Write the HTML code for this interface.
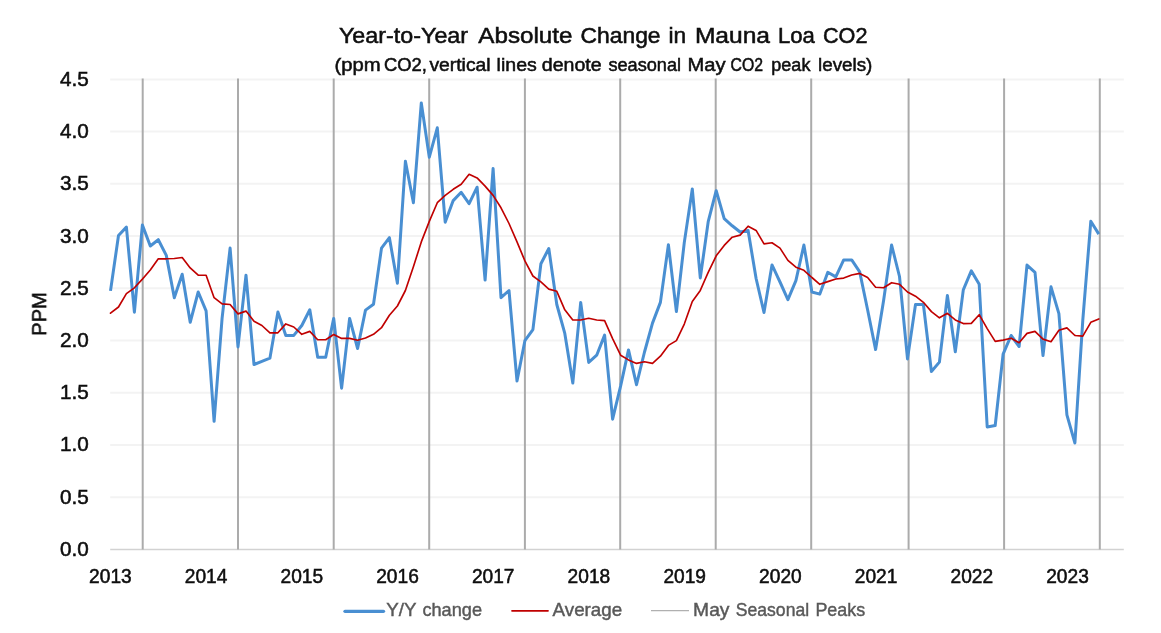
<!DOCTYPE html>
<html><head><meta charset="utf-8"><title>Year-to-Year Absolute Change in Mauna Loa CO2</title>
<style>html,body{margin:0;padding:0;background:#fff;}svg{display:block;}text{font-family:"Liberation Sans",sans-serif;}</style></head><body>
<svg width="1161" height="633" viewBox="0 0 1161 633">
<defs><filter id="soft" x="0" y="0" width="1161" height="633" filterUnits="userSpaceOnUse"><feGaussianBlur stdDeviation="0.5"/></filter></defs>
<rect width="1161" height="633" fill="#fff"/>
<g filter="url(#soft)">
<line x1="110.2" y1="79.4" x2="1123.8" y2="79.4" stroke="#f3f3f3" stroke-width="2"/>
<line x1="110.2" y1="131.6" x2="1123.8" y2="131.6" stroke="#f3f3f3" stroke-width="2"/>
<line x1="110.2" y1="183.8" x2="1123.8" y2="183.8" stroke="#f3f3f3" stroke-width="2"/>
<line x1="110.2" y1="236.1" x2="1123.8" y2="236.1" stroke="#f3f3f3" stroke-width="2"/>
<line x1="110.2" y1="288.3" x2="1123.8" y2="288.3" stroke="#f3f3f3" stroke-width="2"/>
<line x1="110.2" y1="340.5" x2="1123.8" y2="340.5" stroke="#f3f3f3" stroke-width="2"/>
<line x1="110.2" y1="392.7" x2="1123.8" y2="392.7" stroke="#f3f3f3" stroke-width="2"/>
<line x1="110.2" y1="444.9" x2="1123.8" y2="444.9" stroke="#f3f3f3" stroke-width="2"/>
<line x1="110.2" y1="497.2" x2="1123.8" y2="497.2" stroke="#f3f3f3" stroke-width="2"/>
<line x1="110.2" y1="549.4" x2="1123.8" y2="549.4" stroke="#d2d2d2" stroke-width="1.5"/>
<line x1="142.7" y1="78.5" x2="142.7" y2="549.4" stroke="#ababab" stroke-width="2.0"/>
<line x1="238.0" y1="78.5" x2="238.0" y2="549.4" stroke="#ababab" stroke-width="2.0"/>
<line x1="333.7" y1="78.5" x2="333.7" y2="549.4" stroke="#ababab" stroke-width="2.0"/>
<line x1="429.2" y1="78.5" x2="429.2" y2="549.4" stroke="#ababab" stroke-width="2.0"/>
<line x1="524.9" y1="78.5" x2="524.9" y2="549.4" stroke="#ababab" stroke-width="2.0"/>
<line x1="620.2" y1="78.5" x2="620.2" y2="549.4" stroke="#ababab" stroke-width="2.0"/>
<line x1="715.7" y1="78.5" x2="715.7" y2="549.4" stroke="#ababab" stroke-width="2.0"/>
<line x1="811.2" y1="78.5" x2="811.2" y2="549.4" stroke="#ababab" stroke-width="2.0"/>
<line x1="908.6" y1="78.5" x2="908.6" y2="549.4" stroke="#ababab" stroke-width="2.0"/>
<line x1="1004.1" y1="78.5" x2="1004.1" y2="549.4" stroke="#ababab" stroke-width="2.0"/>
<line x1="1099.8" y1="78.5" x2="1099.8" y2="549.4" stroke="#ababab" stroke-width="2.0"/>
<polyline fill="none" stroke="#4a8fd2" stroke-width="3.0" stroke-linejoin="round" stroke-linecap="butt" points="110.5,290.9 118.5,235.5 126.4,227.1 134.4,312.2 142.4,225.0 150.3,246.0 158.3,239.7 166.3,255.4 174.3,297.7 182.2,274.2 190.2,322.3 198.2,292.0 206.1,310.8 214.1,421.3 222.1,318.1 230.1,248.1 238.0,346.9 246.0,275.2 254.0,364.5 261.9,361.3 269.9,358.2 277.9,311.9 285.8,335.4 293.8,335.4 301.8,325.5 309.8,309.8 317.7,357.3 325.7,357.3 333.7,318.4 341.6,388.2 349.6,318.4 357.6,348.5 365.5,310.1 373.5,304.3 381.5,248.1 389.4,237.7 397.4,283.2 405.4,161.3 413.4,202.7 421.3,102.9 429.3,157.2 437.3,127.8 445.2,222.2 453.2,200.6 461.2,192.3 469.1,203.7 477.1,187.2 485.1,280.1 493.1,168.6 501.0,297.7 509.0,290.5 517.0,381.0 524.9,340.7 532.9,329.6 540.9,263.7 548.8,248.5 556.8,304.5 564.8,333.4 572.8,383.0 580.7,302.4 588.7,362.4 596.7,355.2 604.6,335.1 612.6,419.2 620.6,386.1 628.5,349.9 636.5,384.7 644.5,352.0 652.5,323.1 660.4,302.4 668.4,244.8 676.4,311.6 684.3,242.4 692.3,189.0 700.3,277.9 708.2,221.7 716.2,190.7 724.2,218.6 732.2,225.8 740.1,232.0 748.1,230.4 756.1,278.5 764.0,312.5 772.0,264.9 780.0,282.0 787.9,299.6 795.9,280.6 803.9,245.0 811.9,292.0 819.8,294.1 827.8,272.3 835.8,276.9 843.7,259.9 851.7,259.9 859.7,271.9 867.6,309.8 875.6,349.6 883.6,300.4 891.6,245.0 899.5,276.5 907.5,358.9 915.5,304.5 923.4,304.5 931.4,371.5 939.4,362.1 947.4,295.5 955.3,351.8 963.3,289.9 971.3,270.8 979.2,284.3 987.2,427.0 995.2,425.5 1003.1,354.1 1011.1,335.5 1019.1,346.5 1027.0,265.1 1035.0,272.3 1043.0,355.6 1051.0,286.8 1058.9,313.7 1066.9,414.9 1074.9,443.0 1082.8,320.2 1090.8,221.3 1098.8,234.1"/>
<polyline fill="none" stroke="#c00000" stroke-width="1.65" stroke-linejoin="round" stroke-linecap="round" points="110.5,313.2 118.5,307.0 126.4,293.6 134.4,287.8 142.4,279.1 150.3,270.0 158.3,258.8 166.3,258.8 174.3,258.5 182.2,257.5 190.2,267.9 198.2,275.2 206.1,275.2 214.1,297.7 222.1,303.9 230.1,304.5 238.0,313.9 246.0,311.1 254.0,321.3 261.9,325.5 269.9,332.8 277.9,332.8 285.8,323.9 293.8,327.0 301.8,334.3 309.8,331.4 317.7,339.7 325.7,339.7 333.7,334.5 341.6,338.4 349.6,338.4 357.6,340.3 365.5,338.0 373.5,334.3 381.5,327.7 389.4,315.3 397.4,306.0 405.4,290.5 413.4,266.7 421.3,241.9 429.3,221.4 437.3,202.7 445.2,195.4 453.2,189.3 461.2,184.2 469.1,174.3 477.1,177.9 485.1,186.1 493.1,195.4 501.0,207.8 509.0,223.5 517.0,241.9 524.9,260.9 532.9,276.0 540.9,281.9 548.8,289.1 556.8,291.3 564.8,309.8 572.8,320.0 580.7,320.0 588.7,318.3 596.7,320.0 604.6,320.6 612.6,338.6 620.6,355.2 628.5,359.9 636.5,363.4 644.5,361.8 652.5,363.4 660.4,356.2 668.4,345.4 676.4,340.6 684.3,324.1 692.3,301.4 700.3,290.4 708.2,272.3 716.2,255.8 724.2,245.4 732.2,237.2 740.1,235.1 748.1,226.2 756.1,230.4 764.0,243.9 772.0,242.8 780.0,248.1 787.9,260.4 795.9,267.2 803.9,270.3 811.9,277.5 819.8,284.3 827.8,281.6 835.8,279.0 843.7,278.1 851.7,275.0 859.7,273.4 867.6,277.5 875.6,287.2 883.6,287.8 891.6,282.7 899.5,284.3 907.5,292.0 915.5,296.2 923.4,302.3 931.4,311.6 939.4,317.8 947.4,313.3 955.3,319.9 963.3,323.6 971.3,323.4 979.2,314.7 987.2,328.6 995.2,341.4 1003.1,340.1 1011.1,338.2 1019.1,342.7 1027.0,333.4 1035.0,331.4 1043.0,339.1 1051.0,341.7 1058.9,330.3 1066.9,327.9 1074.9,335.5 1082.8,336.1 1090.8,322.3 1098.8,318.9"/>
<text x="88.7" y="85.8" text-anchor="end" font-size="20.6" fill="#0a0a0a" stroke="#0a0a0a" stroke-width="0.5" textLength="28.8" lengthAdjust="spacingAndGlyphs">4.5</text>
<text x="88.7" y="138.0" text-anchor="end" font-size="20.6" fill="#0a0a0a" stroke="#0a0a0a" stroke-width="0.5" textLength="28.8" lengthAdjust="spacingAndGlyphs">4.0</text>
<text x="88.7" y="190.2" text-anchor="end" font-size="20.6" fill="#0a0a0a" stroke="#0a0a0a" stroke-width="0.5" textLength="28.8" lengthAdjust="spacingAndGlyphs">3.5</text>
<text x="88.7" y="242.5" text-anchor="end" font-size="20.6" fill="#0a0a0a" stroke="#0a0a0a" stroke-width="0.5" textLength="28.8" lengthAdjust="spacingAndGlyphs">3.0</text>
<text x="88.7" y="294.7" text-anchor="end" font-size="20.6" fill="#0a0a0a" stroke="#0a0a0a" stroke-width="0.5" textLength="28.8" lengthAdjust="spacingAndGlyphs">2.5</text>
<text x="88.7" y="346.9" text-anchor="end" font-size="20.6" fill="#0a0a0a" stroke="#0a0a0a" stroke-width="0.5" textLength="28.8" lengthAdjust="spacingAndGlyphs">2.0</text>
<text x="88.7" y="399.1" text-anchor="end" font-size="20.6" fill="#0a0a0a" stroke="#0a0a0a" stroke-width="0.5" textLength="28.8" lengthAdjust="spacingAndGlyphs">1.5</text>
<text x="88.7" y="451.3" text-anchor="end" font-size="20.6" fill="#0a0a0a" stroke="#0a0a0a" stroke-width="0.5" textLength="28.8" lengthAdjust="spacingAndGlyphs">1.0</text>
<text x="88.7" y="503.6" text-anchor="end" font-size="20.6" fill="#0a0a0a" stroke="#0a0a0a" stroke-width="0.5" textLength="28.8" lengthAdjust="spacingAndGlyphs">0.5</text>
<text x="88.7" y="555.8" text-anchor="end" font-size="20.6" fill="#0a0a0a" stroke="#0a0a0a" stroke-width="0.5" textLength="28.8" lengthAdjust="spacingAndGlyphs">0.0</text>
<text x="110.4" y="582.6" text-anchor="middle" font-size="20.6" fill="#0a0a0a" stroke="#0a0a0a" stroke-width="0.5" textLength="42.6" lengthAdjust="spacingAndGlyphs">2013</text>
<text x="206.1" y="582.6" text-anchor="middle" font-size="20.6" fill="#0a0a0a" stroke="#0a0a0a" stroke-width="0.5" textLength="42.6" lengthAdjust="spacingAndGlyphs">2014</text>
<text x="301.8" y="582.6" text-anchor="middle" font-size="20.6" fill="#0a0a0a" stroke="#0a0a0a" stroke-width="0.5" textLength="42.6" lengthAdjust="spacingAndGlyphs">2015</text>
<text x="397.5" y="582.6" text-anchor="middle" font-size="20.6" fill="#0a0a0a" stroke="#0a0a0a" stroke-width="0.5" textLength="42.6" lengthAdjust="spacingAndGlyphs">2016</text>
<text x="493.2" y="582.6" text-anchor="middle" font-size="20.6" fill="#0a0a0a" stroke="#0a0a0a" stroke-width="0.5" textLength="42.6" lengthAdjust="spacingAndGlyphs">2017</text>
<text x="588.9" y="582.6" text-anchor="middle" font-size="20.6" fill="#0a0a0a" stroke="#0a0a0a" stroke-width="0.5" textLength="42.6" lengthAdjust="spacingAndGlyphs">2018</text>
<text x="684.7" y="582.6" text-anchor="middle" font-size="20.6" fill="#0a0a0a" stroke="#0a0a0a" stroke-width="0.5" textLength="42.6" lengthAdjust="spacingAndGlyphs">2019</text>
<text x="780.4" y="582.6" text-anchor="middle" font-size="20.6" fill="#0a0a0a" stroke="#0a0a0a" stroke-width="0.5" textLength="42.6" lengthAdjust="spacingAndGlyphs">2020</text>
<text x="876.1" y="582.6" text-anchor="middle" font-size="20.6" fill="#0a0a0a" stroke="#0a0a0a" stroke-width="0.5" textLength="42.6" lengthAdjust="spacingAndGlyphs">2021</text>
<text x="971.8" y="582.6" text-anchor="middle" font-size="20.6" fill="#0a0a0a" stroke="#0a0a0a" stroke-width="0.5" textLength="42.6" lengthAdjust="spacingAndGlyphs">2022</text>
<text x="1067.5" y="582.6" text-anchor="middle" font-size="20.6" fill="#0a0a0a" stroke="#0a0a0a" stroke-width="0.5" textLength="42.6" lengthAdjust="spacingAndGlyphs">2023</text>
<text transform="translate(46.2,314) rotate(-90)" text-anchor="middle" font-size="20.6" fill="#0a0a0a" stroke="#0a0a0a" stroke-width="0.5" textLength="43.5" lengthAdjust="spacingAndGlyphs">PPM</text>
<text y="43.4" font-size="22.2" fill="#0a0a0a" stroke="#0a0a0a" stroke-width="0.5"><tspan x="338.9" textLength="129.2" lengthAdjust="spacingAndGlyphs">Year-to-Year</tspan> <tspan x="478.3" textLength="94.2" lengthAdjust="spacingAndGlyphs">Absolute</tspan> <tspan x="580.5" textLength="80.1" lengthAdjust="spacingAndGlyphs">Change</tspan> <tspan x="668.4" textLength="17.7" lengthAdjust="spacingAndGlyphs">in</tspan> <tspan x="694.9" textLength="75.1" lengthAdjust="spacingAndGlyphs">Mauna</tspan> <tspan x="778.0" textLength="36.9" lengthAdjust="spacingAndGlyphs">Loa</tspan> <tspan x="823.0" textLength="44.4" lengthAdjust="spacingAndGlyphs">CO2</tspan></text>
<text y="70.9" font-size="19.2" fill="#0a0a0a" stroke="#0a0a0a" stroke-width="0.5"><tspan x="334.4" textLength="46.2" lengthAdjust="spacingAndGlyphs">(ppm</tspan> <tspan x="383.9" textLength="42.9" lengthAdjust="spacingAndGlyphs">CO2,</tspan> <tspan x="429.4" textLength="61.2" lengthAdjust="spacingAndGlyphs">vertical</tspan> <tspan x="496.6" textLength="40.2" lengthAdjust="spacingAndGlyphs">lines</tspan> <tspan x="541.8" textLength="59.9" lengthAdjust="spacingAndGlyphs">denote</tspan> <tspan x="608.4" textLength="72.7" lengthAdjust="spacingAndGlyphs">seasonal</tspan> <tspan x="687.4" textLength="38.1" lengthAdjust="spacingAndGlyphs">May</tspan> <tspan x="730.5" textLength="32.5" lengthAdjust="spacingAndGlyphs">CO2</tspan> <tspan x="771.3" textLength="39.1" lengthAdjust="spacingAndGlyphs">peak</tspan> <tspan x="818.0" textLength="54.4" lengthAdjust="spacingAndGlyphs">levels)</tspan></text>
<line x1="345" y1="611.3" x2="383.5" y2="611.3" stroke="#4a8fd2" stroke-width="3.3" stroke-linecap="round"/>
<text y="616.3" font-size="19" fill="#595959" stroke="#595959" stroke-width="0.45"><tspan x="386.2" textLength="29.9" lengthAdjust="spacingAndGlyphs">Y/Y</tspan> <tspan x="422.4" textLength="59.6" lengthAdjust="spacingAndGlyphs">change</tspan></text>
<line x1="512" y1="610.8" x2="548" y2="610.8" stroke="#c00000" stroke-width="1.75" stroke-linecap="round"/>
<text y="616.3" font-size="19" fill="#595959" stroke="#595959" stroke-width="0.45"><tspan x="552.6" textLength="69.6" lengthAdjust="spacingAndGlyphs">Average</tspan></text>
<line x1="651" y1="610.6" x2="689" y2="610.6" stroke="#b0b0b0" stroke-width="1.4"/>
<text y="616.3" font-size="19" fill="#595959" stroke="#595959" stroke-width="0.45"><tspan x="693.1" textLength="36.4" lengthAdjust="spacingAndGlyphs">May</tspan> <tspan x="735.8" textLength="73.3" lengthAdjust="spacingAndGlyphs">Seasonal</tspan> <tspan x="815.4" textLength="49.7" lengthAdjust="spacingAndGlyphs">Peaks</tspan></text>
</g>
</svg></body></html>
